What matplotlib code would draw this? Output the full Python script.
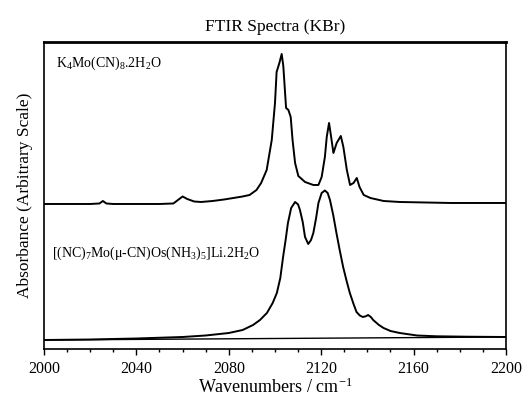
import numpy as np
import matplotlib
matplotlib.use('Agg')
import matplotlib.pyplot as plt
from matplotlib.ticker import MultipleLocator

plt.rcParams['font.family'] = ['Liberation Serif', 'DejaVu Serif']
plt.rcParams['mathtext.fontset'] = 'custom'
plt.rcParams['mathtext.rm'] = 'Liberation Serif'
plt.rcParams['mathtext.it'] = 'Liberation Serif:italic'

# K4Mo(CN)8.2H2O spectrum (offset upward)
wn_upper = [2000, 2020, 2024, 2025.5, 2027, 2030, 2050, 2056, 2058, 2060, 2062, 2065,
            2068, 2073, 2078, 2082, 2086, 2089, 2092, 2094, 2096.4, 2098.6, 2100,
            2100.7, 2101.9, 2102.9, 2103.6, 2104.8, 2105.8, 2106.8, 2107.6, 2108.7,
            2110.1, 2113, 2116.6, 2118.8, 2120.2, 2121.6, 2122.4, 2123.4, 2124.3,
            2125.3, 2126.7, 2128.5, 2129.6, 2131.1, 2132.5, 2134, 2135.4, 2136.6,
            2138.4, 2141.3, 2147, 2154, 2176, 2200]
abs_upper = [1.45, 1.45, 1.455, 1.48, 1.455, 1.45, 1.45, 1.455, 1.49, 1.525, 1.50, 1.475,
             1.47, 1.48, 1.495, 1.51, 1.525, 1.54, 1.59, 1.66, 1.79, 2.09, 2.46,
             2.77, 2.86, 2.95, 2.83, 2.41, 2.39, 2.32, 2.09, 1.86,
             1.73, 1.67, 1.64, 1.64, 1.72, 1.92, 2.12, 2.26, 2.12,
             1.96, 2.06, 2.13, 2.02, 1.79, 1.64, 1.66, 1.71, 1.62,
             1.54, 1.51, 1.48, 1.47, 1.46, 1.46]

# [(NC)7Mo(u-CN)Os(NH3)5]Li.2H2O spectrum
wn_lower = [2000, 2020, 2040, 2060, 2070, 2080, 2086, 2090.5, 2093.5, 2096.5, 2099,
            2100.8, 2102.3, 2103.5, 2104.6, 2105.6, 2107, 2108.7, 2110, 2110.8, 2112,
            2113, 2114.4, 2115.6, 2116.6, 2117.8, 2118.8, 2120.2, 2121.6, 2122.8,
            2123.8, 2125.2, 2126.6, 2128, 2129.5, 2131, 2132.4, 2134, 2135.3, 2136.7,
            2138, 2139.3, 2140.3, 2141.5, 2142.5, 2145, 2147, 2150, 2154, 2161.5,
            2170, 2183, 2200]
abs_lower = [0.09, 0.095, 0.105, 0.12, 0.135, 0.16, 0.19, 0.24, 0.29, 0.36, 0.46,
             0.56, 0.71, 0.92, 1.09, 1.26, 1.41, 1.47, 1.445, 1.39, 1.27,
             1.12, 1.05, 1.09, 1.16, 1.31, 1.46, 1.56, 1.585, 1.56,
             1.49, 1.34, 1.16, 0.99, 0.82, 0.68, 0.56, 0.45, 0.37, 0.335,
             0.32, 0.327, 0.34, 0.32, 0.29, 0.24, 0.21, 0.18, 0.16, 0.135,
             0.127, 0.123, 0.12]

label_upper = r'K$_4$Mo(CN)$_8$.2H$_2$O'
label_lower = r'[(NC)$_7$Mo(μ-CN)Os(NH$_3$)$_5$]Li.2H$_2$O'

fig = plt.figure(figsize=(5.23, 3.96), dpi=100)
ax = fig.add_axes([0.0841, 0.1187, 0.8834, 0.7753])

ax.plot(wn_upper, abs_upper, color='k', lw=1.4)
ax.plot(wn_lower, abs_lower, color='k', lw=1.4)
# closing line under the lower trace
ax.plot([wn_lower[0], wn_lower[-1]], [abs_lower[0], abs_lower[-1]], color='k', lw=1.0)

ax.text(0.025, 0.93, label_upper, transform=ax.transAxes, fontsize=10, va='center')
ax.text(0.018, 0.31, label_lower, transform=ax.transAxes, fontsize=10, va='center')

ax.set_xlim(2000, 2200)
ax.set_ylim(0, 3.07)
ax.xaxis.set_major_locator(MultipleLocator(40))
ax.xaxis.set_minor_locator(MultipleLocator(10))
ax.tick_params(axis='x', which='major', direction='out', length=4, width=1, labelsize=11.5, pad=5)
ax.tick_params(axis='x', which='minor', direction='out', length=2.5, width=1)
ax.set_yticks([])
for s in ax.spines.values():
    s.set_linewidth(1.2)
ax.spines['top'].set_linewidth(2)

ax.set_title('FTIR Spectra (KBr)', fontsize=12.5, pad=8)
ax.set_xlabel(r'Wavenumbers / cm$^{-1}$', fontsize=13, labelpad=0)
ax.set_ylabel('Absorbance (Arbitrary Scale)', fontsize=12.5, labelpad=8)

fig.savefig('out.png', dpi=100)
